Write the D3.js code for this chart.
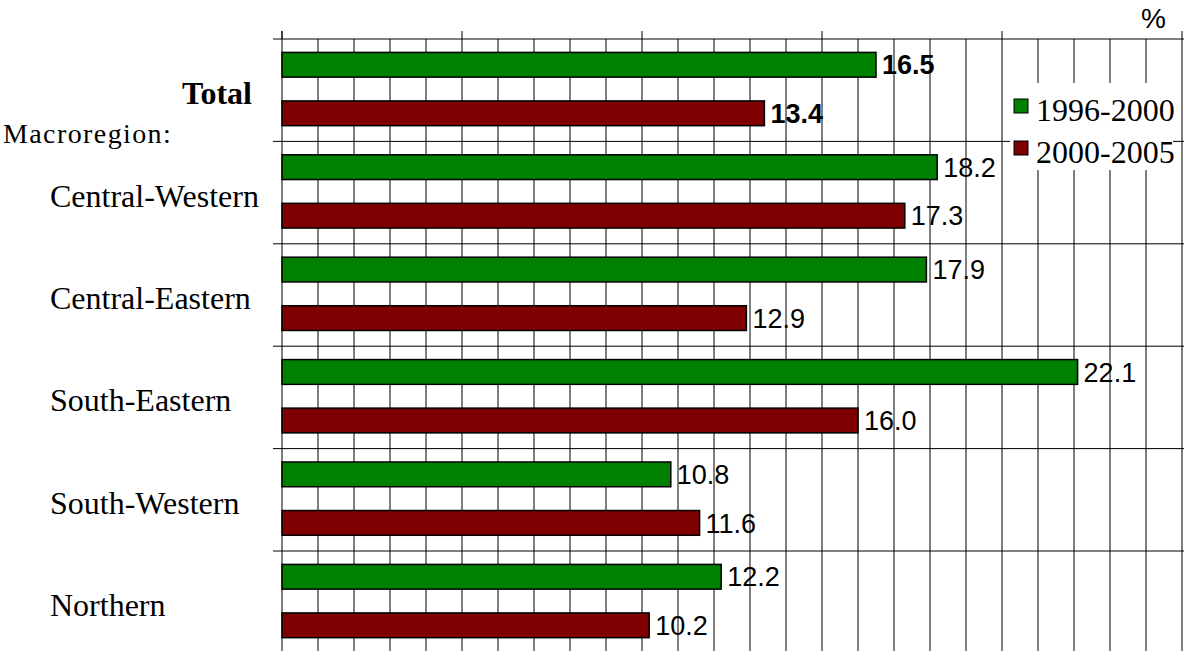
<!DOCTYPE html>
<html>
<head>
<meta charset="utf-8">
<script src="https://cdn.jsdelivr.net/npm/d3@7"></script>
<style>
  body { margin: 0; background: #fff; }
  svg { display: block; }
</style>
</head>
<body>
<svg width="1184" height="651"></svg>
<script>
const categories = ["Total", "Central-Western", "Central-Eastern", "South-Eastern", "South-Western", "Northern"];
const seriesNames = ["1996-2000", "2000-2005"];
const values1996 = [16.5, 18.2, 17.9, 22.1, 10.8, 12.2];
const values2000 = [13.4, 17.3, 12.9, 16.0, 11.6, 10.2];
const majorTicks = [0, 5, 10, 15, 20, 25];
const colors = ["#008000", "#7f0000"];

const svg = d3.select("svg");

const top0 = 39, bandH = 102.4;
const x = d3.scaleLinear().domain([0, 25]).range([282, 1182]);
const y = d3.scaleBand()
    .domain(categories)
    .range([top0, top0 + categories.length * bandH]);
const ySub = d3.scaleBand()
    .domain(seriesNames)
    .range([0, y.bandwidth()])
    .paddingInner(0.49)
    .paddingOuter(0.3)
    .align(0.46);

const rows = [];
categories.forEach((c, i) => {
    rows.push({ cat: c, series: seriesNames[0], value: values1996[i] });
    rows.push({ cat: c, series: seriesNames[1], value: values2000[i] });
});

// value labels (under the grid, as in the original)
svg.append("g").selectAll("text")
    .data(rows)
    .enter().append("text")
    .attr("x", d => x(d.value) + 6)
    .attr("y", d => y(d.cat) + ySub(d.series) + ySub.bandwidth() / 2)
    .attr("dy", "0.36em")
    .attr("font-family", "Liberation Sans, Arial, sans-serif")
    .attr("font-size", "27px")
    .attr("font-weight", d => d.cat === "Total" ? "bold" : "normal")
    .text(d => d.value.toFixed(1));

// grid
const grid = svg.append("g").attr("stroke", "#000").attr("stroke-width", 1);
grid.selectAll(".v")
    .data(d3.range(1, 26))
    .enter().append("line")
    .attr("x1", d => x(d)).attr("x2", d => x(d))
    .attr("y1", top0).attr("y2", 651);
grid.selectAll(".maj")
    .data(majorTicks)
    .enter().append("line")
    .attr("x1", d => x(d)).attr("x2", d => x(d))
    .attr("y1", top0 - 8).attr("y2", top0);
grid.append("line")
    .attr("x1", x(0)).attr("x2", x(0))
    .attr("y1", top0 - 8).attr("y2", 651);
grid.selectAll(".h")
    .data(categories.map(c => y(c)))
    .enter().append("line")
    .attr("x1", 273).attr("x2", 1184)
    .attr("y1", d => d).attr("y2", d => d);

// bars
svg.append("g").selectAll("rect")
    .data(rows)
    .enter().append("rect")
    .attr("x", x(0))
    .attr("y", d => y(d.cat) + ySub(d.series))
    .attr("width", d => x(d.value) - x(0))
    .attr("height", ySub.bandwidth())
    .attr("fill", d => colors[seriesNames.indexOf(d.series)])
    .attr("stroke", "#000")
    .attr("stroke-width", 1.5);

// category labels
const serif = "Liberation Serif, Times New Roman, serif";
svg.append("g").selectAll("text")
    .data(categories)
    .enter().append("text")
    .attr("x", d => d === "Total" ? 182 : 50)
    .attr("y", d => y(d) + y.bandwidth() / 2 + 14)
    .attr("font-family", serif)
    .attr("font-size", "32px")
    .attr("font-weight", d => d === "Total" ? "bold" : "normal")
    .text(d => d);

svg.append("text")
    .attr("x", 3)
    .attr("y", 143)
    .attr("font-family", serif)
    .attr("font-size", "28px")
    .attr("letter-spacing", "1.4px")
    .text("Macroregion:");

svg.append("text")
    .attr("x", 1141)
    .attr("y", 28)
    .attr("font-family", "Liberation Sans, Arial, sans-serif")
    .attr("font-size", "28px")
    .text("%");

// legend
const legend = svg.append("g");
legend.append("rect")
    .attr("x", 1010).attr("y", 83)
    .attr("width", 163).attr("height", 87)
    .attr("fill", "#fff");
const items = legend.selectAll(".item")
    .data(seriesNames)
    .enter().append("g")
    .attr("transform", (d, i) => `translate(1014, ${99 + i * 42})`);
items.append("rect")
    .attr("width", 14).attr("height", 14)
    .attr("fill", (d, i) => colors[i])
    .attr("stroke", "#000")
    .attr("stroke-width", 1);
items.append("text")
    .attr("x", 22)
    .attr("y", 21.5)
    .attr("font-family", serif)
    .attr("font-size", "32px")
    .text(d => d);
</script>
</body>
</html>
